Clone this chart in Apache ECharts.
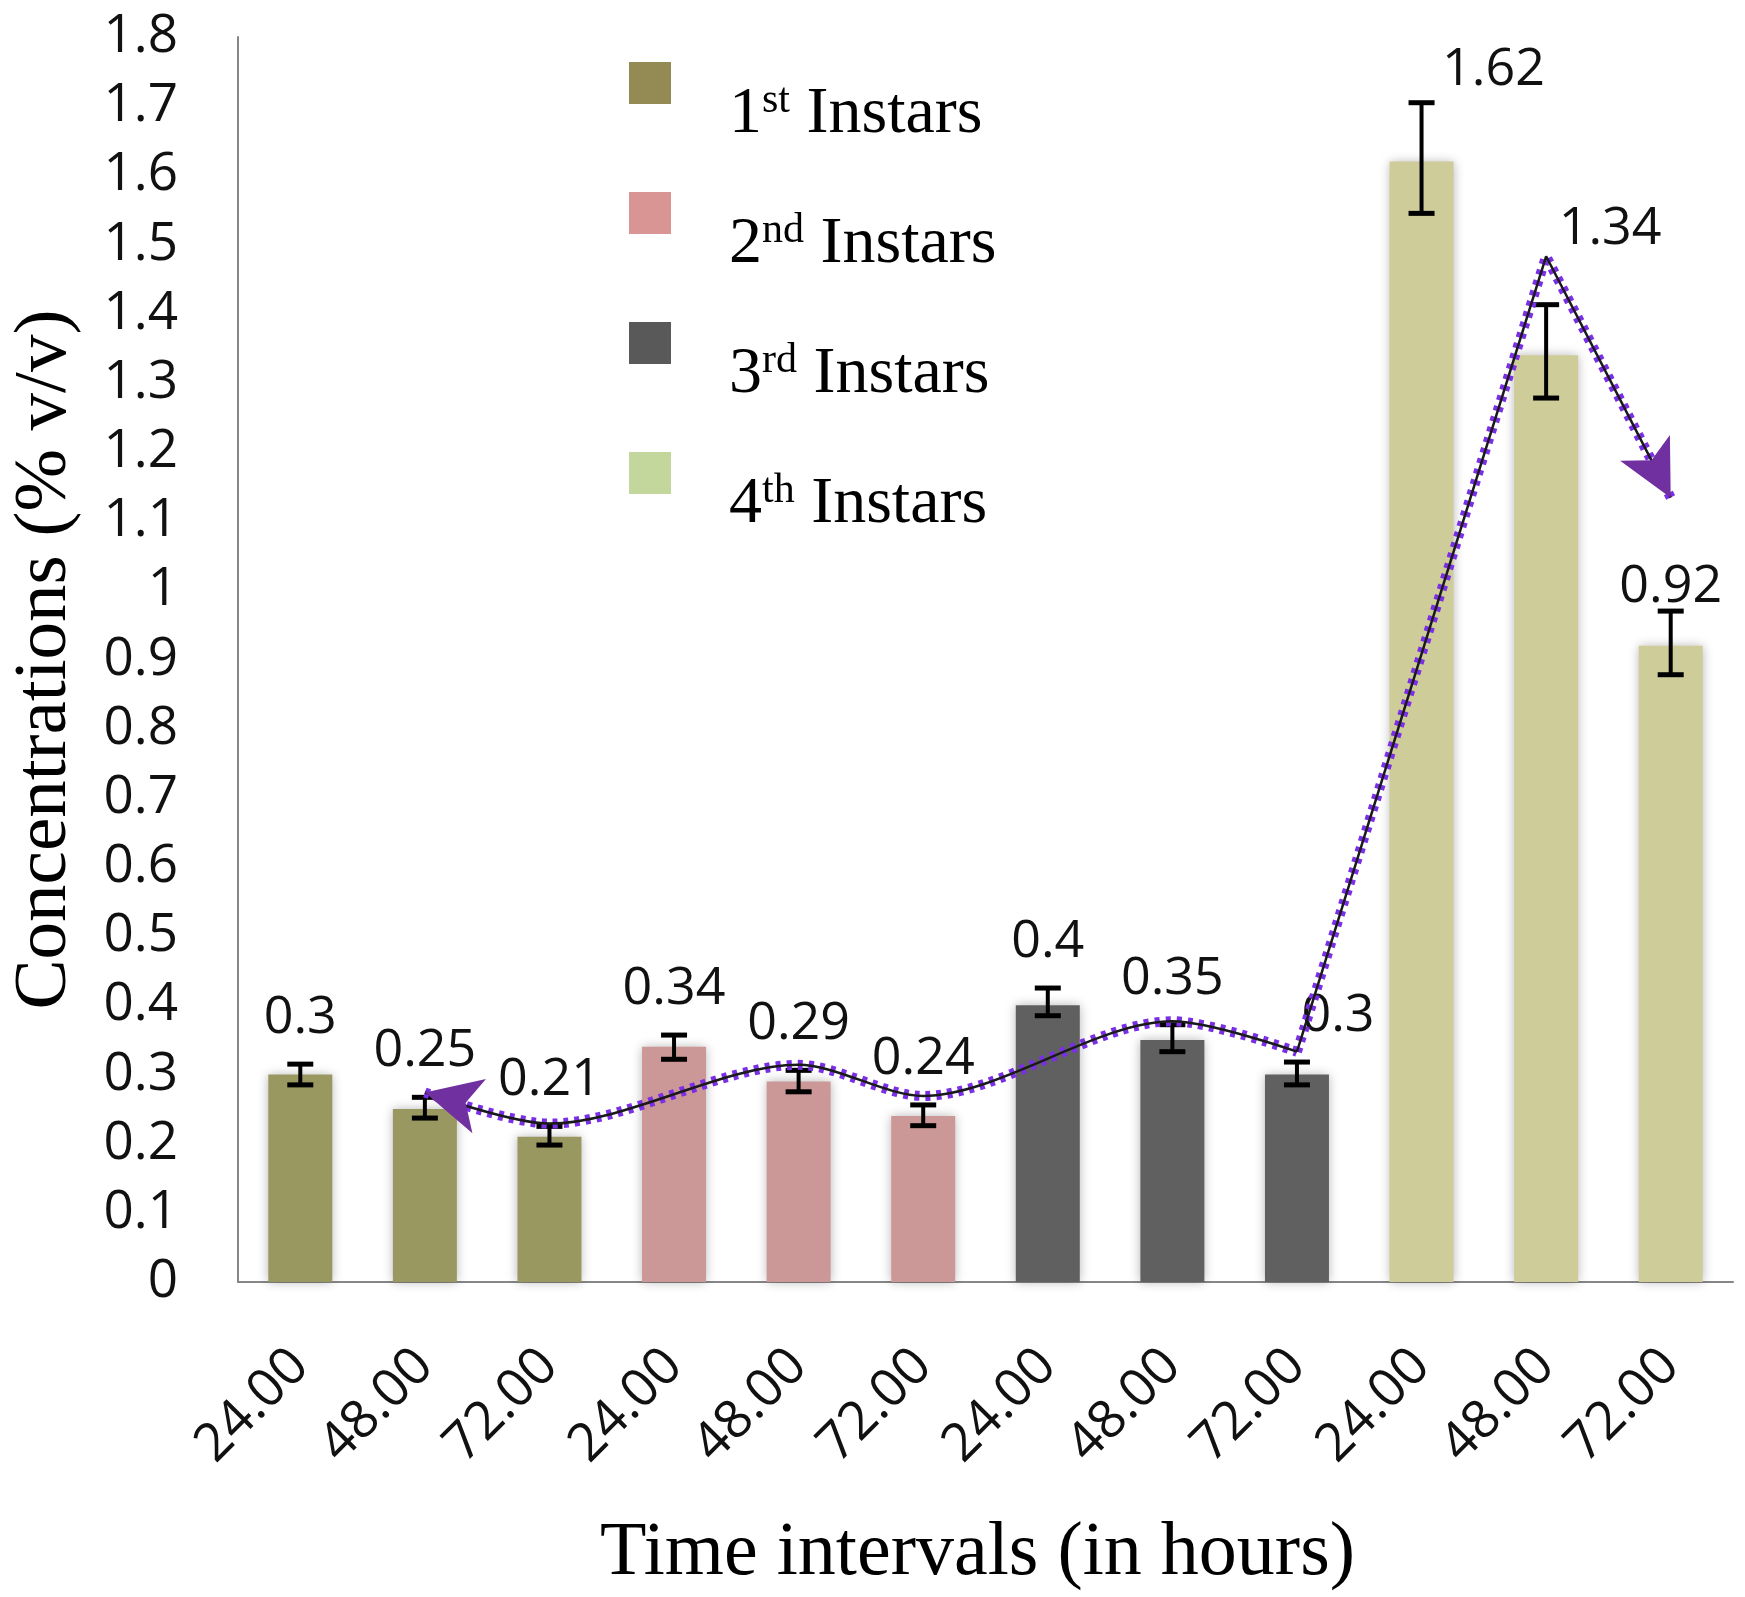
<!DOCTYPE html>
<html>
<head>
<meta charset="utf-8">
<script src="https://cdn.jsdelivr.net/npm/echarts@6/dist/echarts.min.js"></script>
<style>html,body{margin:0;padding:0;background:#fff}#c{width:1745px;height:1597px}</style>
</head>
<body>
<div id="c"></div>
<script>
// ---- data ----
const categories = ['24.00','48.00','72.00','24.00','48.00','72.00','24.00','48.00','72.00','24.00','48.00','72.00'];
const values = [0.30, 0.25, 0.21, 0.34, 0.29, 0.24, 0.40, 0.35, 0.30, 1.62, 1.34, 0.92];
const errUp = [0.015, 0.017, 0.015, 0.017, 0.016, 0.016, 0.025, 0.022, 0.018, 0.085, 0.073, 0.050];
const errDown = [0.015, 0.013, 0.012, 0.018, 0.015, 0.014, 0.015, 0.017, 0.015, 0.075, 0.062, 0.042];
const groupOf = [0,0,0,1,1,1,2,2,2,3,3,3];
const ordinals = ['1','2','3','4'];
const suffixes = ['st','nd','rd','th'];
const seriesNames = ['1st Instars','2nd Instars','3rd Instars','4th Instars'];
const yTicks = [0, 1.8, 0.1];
// trend line; first and last points are the arrow tips
const trendX = [1.0, 2, 4, 5, 7, 8, 10, 11.0];
const trendY = [0.274, 0.229, 0.314, 0.269, 0.377, 0.333, 1.483, 1.134];

// ---- styles ----
const barColors = ['#9a9861','#cc9797','#606060','#cecc99'];
const legendColors = ['#948a53','#d99594','#595959','#c3d69b'];
const labelDX = {8: 41, 9: 72, 10: 64};
const labelDY = {9: 13, 10: -29, 11: 22};
const tickFont = 'Open Sans';
const serif = 'Liberation Serif';
const arrowLen = 56, arrowW = 42;

const chart = echarts.init(document.getElementById('c'), null, {renderer:'canvas'});

const barSeries = seriesNames.map((nm, g) => ({
  name: nm, type: 'bar', stack: 'all', barWidth: 64,
  data: values.map((v, i) => groupOf[i] === g ? v : '-'),
  itemStyle: {color: barColors[g], shadowBlur: 10, shadowColor: 'rgba(0,0,0,0.28)'},
  z: 2
}));

const errSeries = {
  type: 'custom', xAxisIndex: 0, yAxisIndex: 0, z: 5,
  data: values.map((v, i) => [i, v - errDown[i], v + errUp[i], v]),
  renderItem: function (params, api) {
    const i = api.value(0);
    const lo = api.coord([i, api.value(1)]);
    const hi = api.coord([i, api.value(2)]);
    const cw = 13;
    const dx = labelDX[i] || 0, dy = labelDY[i] || 0;
    return {
      type: 'group',
      children: [
        {type:'line', shape:{x1:hi[0], y1:hi[1], x2:lo[0], y2:lo[1]}, style:{stroke:'#000', lineWidth:4}},
        {type:'line', shape:{x1:hi[0]-cw, y1:hi[1], x2:hi[0]+cw, y2:hi[1]}, style:{stroke:'#000', lineWidth:5}},
        {type:'line', shape:{x1:lo[0]-cw, y1:lo[1], x2:lo[0]+cw, y2:lo[1]}, style:{stroke:'#000', lineWidth:5}},
        {type:'text', x: hi[0] + dx, y: hi[1] - 46 + dy,
          style:{text: String(values[i]), fontFamily: tickFont, fontSize: 52, fill:'#111', align:'center', verticalAlign:'middle'}}
      ]
    };
  }
};

function trendData(from, to) {
  const out = [];
  for (let k = from; k <= to; k++) out.push([trendX[k], trendY[k]]);
  return out;
}
const lowFrom = 0, lowTo = 5, highFrom = 5, highTo = 7;
const purple = {color:'#7a2fe6', width:10, type:[5,6]};
const black = {color:'#1a1a1a', width:2.5};
function lineSeries(id, from, to, ls, smooth, z) {
  return {id: id, type:'line', xAxisIndex:1, yAxisIndex:0, data: trendData(from, to), smooth: smooth,
    symbol:'none', lineStyle: ls, z: z, silent: true};
}

const option = {
  backgroundColor: '#fff',
  animation: false,
  grid: {left: 231, right: 12, top: 37, bottom: 295, containLabel: false},
  legend: {
    orient: 'vertical', left: 629, top: 62, padding: 0, itemWidth: 42, itemHeight: 42, itemGap: 44,
    icon: 'rect', selectedMode: false,
    data: seriesNames.map((nm, g) => ({name: nm, itemStyle: {color: legendColors[g]}})),
    formatter: function (name) {
      const g = seriesNames.indexOf(name);
      return '{n|' + ordinals[g] + '}{s|' + suffixes[g] + '}{n| Instars}';
    },
    textStyle: {
      fontFamily: serif, fontSize: 66, color: '#000', padding: [64, 0, 0, 53],
      rich: {
        n: {fontFamily: serif, fontSize: 66, lineHeight: 70, color:'#000'},
        s: {fontFamily: serif, fontSize: 42, lineHeight: 40, verticalAlign: 'top', color:'#000'}
      }
    }
  },
  xAxis: [{
    type: 'category', data: categories, boundaryGap: true,
    axisLine: {lineStyle: {color: '#868686', width: 2}},
    axisTick: {show: false},
    axisLabel: {rotate: 45, margin: 76, fontFamily: tickFont, fontSize: 53, color: '#111', interval: 0},
    name: 'Time intervals (in hours)', nameLocation: 'middle', nameGap: 234,
    nameTextStyle: {fontFamily: serif, fontSize: 76, color: '#000', padding: [0, 16, 0, 0]}
  }, {
    type: 'value', min: -0.5, max: 11.5, show: false
  }],
  yAxis: {
    type: 'value', min: yTicks[0], max: yTicks[1], interval: yTicks[2],
    axisLine: {show: true, onZero: false, lineStyle: {color: '#868686', width: 2}},
    axisTick: {show: false}, splitLine: {show: false},
    axisLabel: {margin: 60, fontFamily: tickFont, fontSize: 53, color: '#111',
      formatter: v => String(Math.round(v * 10) / 10)},
    name: 'Concentrations (% v/v)', nameLocation: 'middle', nameGap: 155, nameRotate: 90,
    nameTextStyle: {fontFamily: serif, fontSize: 75, color: '#000'}
  },
  series: barSeries.concat([
    lineSeries('lowP', lowFrom, lowTo, purple, 0.3, 6),
    lineSeries('highP', highFrom, highTo, purple, false, 6),
    lineSeries('lowB', lowFrom, lowTo, black, 0.3, 7),
    lineSeries('highB', highFrom, highTo, black, false, 7),
    {id: 'arrows', type: 'scatter', xAxisIndex: 1, yAxisIndex: 0, data: [], z: 8, silent: true},
    errSeries
  ])
};
chart.setOption(option);

// arrowheads: the arrow symbol's tip is its anchor, so it sits on the trend end point
function arrowItem(tipIdx, prevIdx) {
  const finder = {xAxisIndex: 1, yAxisIndex: 0};
  const t = chart.convertToPixel(finder, [trendX[tipIdx], trendY[tipIdx]]);
  const p = chart.convertToPixel(finder, [trendX[prevIdx], trendY[prevIdx]]);
  const dx = t[0] - p[0], dy = t[1] - p[1];
  const rot = Math.atan2(-dx, -dy) * 180 / Math.PI;
  return {value: [trendX[tipIdx], trendY[tipIdx]], symbol: 'arrow', symbolSize: [arrowW, arrowLen],
    symbolRotate: rot, itemStyle: {color: '#7030a0', opacity: 1}};
}
chart.setOption({series: [{id: 'arrows', data: [arrowItem(0, 1), arrowItem(7, 6)]}]});
</script>
</body>
</html>
